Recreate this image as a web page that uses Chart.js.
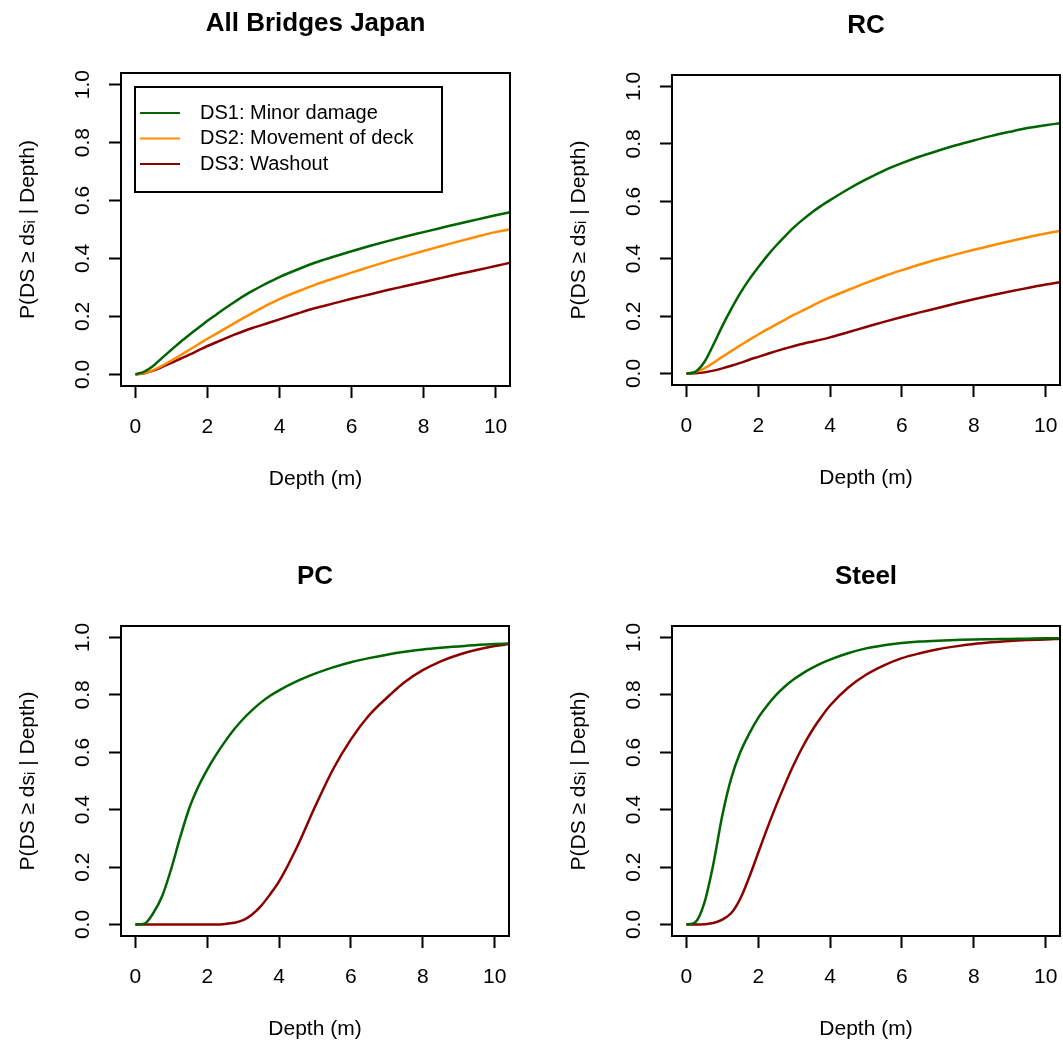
<!DOCTYPE html>
<html>
<head>
<meta charset="utf-8">
<script src="https://cdn.jsdelivr.net/npm/chart.js@4.4.0/dist/chart.umd.min.js"></script>
<style>
  body { margin: 0; background: #fff; width: 1063px; height: 1040px; position: relative; overflow: hidden; }
  .panel { position: absolute; }
</style>
</head>
<body>
<div class="panel" id="p0"><canvas id="c0"></canvas></div>
<div class="panel" id="p1"><canvas id="c1"></canvas></div>
<div class="panel" id="p2"><canvas id="c2"></canvas></div>
<div class="panel" id="p3"><canvas id="c3"></canvas></div>

<script>
// depth grid (m) shared by all curves
const depth = [0, 0.25, 0.5, 0.75, 1, 1.25, 1.5, 1.75, 2, 2.25, 2.5, 2.75, 3, 3.25, 3.5, 3.75, 4,
               4.5, 5, 5.5, 6, 6.5, 7, 7.5, 8, 8.5, 9, 9.5, 10, 10.4];

// All Bridges Japan
const allDS1 = [0, 0.01, 0.03, 0.058, 0.085, 0.112, 0.137, 0.161, 0.185, 0.207, 0.229, 0.25, 0.27, 0.288, 0.305, 0.321, 0.336,
                0.362, 0.386, 0.406, 0.425, 0.443, 0.46, 0.476, 0.491, 0.506, 0.521, 0.535, 0.549, 0.56];
const allDS2 = [0, 0.005, 0.015, 0.03, 0.048, 0.066, 0.085, 0.104, 0.123, 0.141, 0.159, 0.177, 0.195, 0.212, 0.229, 0.245, 0.26,
                0.286, 0.31, 0.331, 0.351, 0.371, 0.39, 0.408, 0.426, 0.443, 0.46, 0.476, 0.491, 0.5];
const allDS3 = [0, 0.004, 0.013, 0.026, 0.04, 0.054, 0.068, 0.083, 0.098, 0.111, 0.124, 0.137, 0.149, 0.16, 0.17, 0.18, 0.19,
                0.21, 0.229, 0.245, 0.261, 0.276, 0.291, 0.305, 0.319, 0.333, 0.347, 0.36, 0.374, 0.385];

// RC
const rcDS1 = [0, 0.006, 0.04, 0.1, 0.165, 0.225, 0.28, 0.328, 0.37, 0.41, 0.446, 0.479, 0.51, 0.537, 0.562, 0.584, 0.604,
               0.642, 0.676, 0.707, 0.733, 0.756, 0.776, 0.795, 0.812, 0.828, 0.842, 0.855, 0.865, 0.872];
const rcDS2 = [0, 0.005, 0.018, 0.037, 0.058, 0.078, 0.098, 0.117, 0.136, 0.154, 0.171, 0.188, 0.205, 0.22, 0.236, 0.251, 0.265,
               0.291, 0.316, 0.339, 0.36, 0.38, 0.398, 0.415, 0.431, 0.446, 0.461, 0.475, 0.488, 0.497];
const rcDS3 = [0, 0.001, 0.004, 0.01, 0.018, 0.027, 0.037, 0.048, 0.058, 0.068, 0.078, 0.087, 0.096, 0.104, 0.111, 0.118, 0.126,
               0.144, 0.162, 0.18, 0.197, 0.213, 0.228, 0.244, 0.259, 0.273, 0.286, 0.298, 0.31, 0.318];

// PC (DS2 not drawn)
const pcDS1 = [0, 0.003, 0.04, 0.1, 0.195, 0.305, 0.405, 0.48, 0.54, 0.592, 0.638, 0.68, 0.716, 0.747, 0.774, 0.797, 0.816,
               0.848, 0.874, 0.896, 0.914, 0.928, 0.94, 0.95, 0.958, 0.964, 0.969, 0.974, 0.977, 0.979];
const pcDS3 = [0, 0, 0, 0, 0, 0, 0, 0, 0, 0, 0.002, 0.006, 0.015, 0.035, 0.065, 0.105, 0.15,
               0.27, 0.41, 0.54, 0.645, 0.728, 0.79, 0.845, 0.886, 0.917, 0.94, 0.957, 0.97, 0.977];

// Steel (DS2 not drawn)
const stDS1 = [0, 0.008, 0.075, 0.21, 0.38, 0.51, 0.6, 0.665, 0.72, 0.763, 0.8, 0.83, 0.855, 0.876, 0.894, 0.91, 0.923,
               0.945, 0.962, 0.973, 0.981, 0.986, 0.989, 0.991, 0.993, 0.994, 0.995, 0.996, 0.997, 0.997];
const stDS3 = [0, 0, 0.001, 0.005, 0.017, 0.04, 0.09, 0.165, 0.25, 0.335, 0.415, 0.49, 0.56, 0.622, 0.676, 0.722, 0.763,
               0.825, 0.87, 0.903, 0.928, 0.945, 0.959, 0.969, 0.977, 0.983, 0.988, 0.991, 0.993, 0.995];

const xTicks = [0, 2, 4, 6, 8, 10];
const yTicks = [0, 0.2, 0.4, 0.6, 0.8, 1.0];
const dsLabels = ['DS1: Minor damage', 'DS2: Movement of deck', 'DS3: Washout'];
const dsColors = ['#006400', '#FF8C00', '#8B0000'];

const FONT = '"Liberation Sans", Arial, Helvetica, sans-serif';

// plot region of each panel in page pixels: left, top, right, bottom
const panels = [
  { title: 'All Bridges Japan', box: [121, 73, 510, 386], series: [allDS1, allDS2, allDS3], legend: true },
  { title: 'RC', box: [672, 75, 1060, 385], series: [rcDS1, rcDS2, rcDS3] },
  { title: 'PC', box: [121, 626, 509, 936], series: [pcDS1, null, pcDS3] },
  { title: 'Steel', box: [672, 626, 1060, 936], series: [stDS1, null, stDS3] }
];

const AXIS_W = 121, TOP_H = 73, BOTTOM_H = 134, PAD_R = 3;

// box round the plot region, like R's box()
const frame = {
  id: 'frame',
  afterDraw(chart) {
    const { ctx, chartArea: a } = chart;
    ctx.save();
    ctx.strokeStyle = '#000';
    ctx.lineWidth = 2;
    ctx.strokeRect(a.left, a.top, a.right - a.left, a.bottom - a.top);
    ctx.restore();
  }
};

// boxed legend in the top-left corner of the plot
const boxLegend = {
  id: 'boxLegend',
  afterDraw(chart, args, opts) {
    if (!opts.show) return;
    const { ctx, chartArea: a } = chart;
    const x = a.left + 14, y = a.top + 14, w = 307, h = 105;
    ctx.save();
    ctx.fillStyle = '#fff';
    ctx.fillRect(x, y, w, h);
    ctx.strokeStyle = '#000';
    ctx.lineWidth = 2;
    ctx.strokeRect(x, y, w, h);
    ctx.font = '20px ' + FONT;
    ctx.textBaseline = 'middle';
    chart.data.datasets.forEach((ds, i) => {
      const ly = y + 26 + i * 25.5;
      ctx.strokeStyle = ds.borderColor;
      ctx.lineWidth = 2;
      ctx.beginPath();
      ctx.moveTo(x + 5, ly);
      ctx.lineTo(x + 45, ly);
      ctx.stroke();
      ctx.fillStyle = '#000';
      ctx.fillText(ds.label, x + 65, ly);
    });
    ctx.restore();
  }
};

panels.forEach((p, k) => {
  const [l, t, r, b] = p.box;
  const div = document.getElementById('p' + k);
  const left = l - AXIS_W, top = t - TOP_H;
  div.style.left = left + 'px';
  div.style.top = top + 'px';
  div.style.width = (r - left + PAD_R) + 'px';
  div.style.height = (b - top + BOTTOM_H) + 'px';

  const datasets = [];
  p.series.forEach((s, i) => {
    if (!s) return;
    datasets.push({
      label: dsLabels[i],
      data: depth.map((d, j) => ({ x: d, y: s[j] })),
      borderColor: dsColors[i],
      backgroundColor: dsColors[i],
      borderWidth: 2.5,
      pointRadius: 0,
      cubicInterpolationMode: 'monotone',
      fill: false
    });
  });

  new Chart(document.getElementById('c' + k), {
    type: 'line',
    data: { datasets: datasets },
    plugins: [frame, boxLegend],
    options: {
      responsive: true,
      maintainAspectRatio: false,
      animation: false,
      layout: { padding: { left: 0, right: PAD_R, top: 0, bottom: 0 } },
      plugins: {
        legend: { display: false },
        tooltip: { enabled: false },
        boxLegend: { show: !!p.legend },
        title: {
          display: true,
          text: p.title,
          fullSize: false,
          color: '#000',
          font: { family: FONT, size: 26, weight: 'bold' },
          padding: { top: 8, bottom: 33.8 }
        }
      },
      scales: {
        x: {
          type: 'linear',
          min: -0.4,
          max: 10.4,
          afterBuildTicks: s => { s.ticks = xTicks.map(v => ({ value: v })); },
          afterFit: s => { s.height = BOTTOM_H; s.paddingLeft = 0; s.paddingRight = 0; },
          border: { display: false },
          grid: { drawOnChartArea: false, drawTicks: true, tickLength: 12, tickColor: '#000', tickWidth: 2 },
          ticks: { color: '#000', font: { family: FONT, size: 21 }, padding: 17, maxRotation: 0, autoSkip: false, callback: v => String(v) },
          title: { display: true, text: 'Depth (m)', color: '#000', font: { family: FONT, size: 21 }, padding: { top: 0, bottom: 28 } }
        },
        y: {
          type: 'linear',
          min: -0.04,
          max: 1.04,
          afterBuildTicks: s => { s.ticks = yTicks.map(v => ({ value: v })); },
          afterFit: s => { s.width = AXIS_W; s.paddingTop = 0; s.paddingBottom = 0; },
          border: { display: false },
          grid: { drawOnChartArea: false, drawTicks: true, tickLength: 12, tickColor: '#000', tickWidth: 2 },
          ticks: { color: '#000', font: { family: FONT, size: 21 }, padding: 11, minRotation: 90, maxRotation: 90, crossAlign: 'center', autoSkip: false, callback: v => v.toFixed(1) },
          title: { display: true, text: 'P(DS \u2265 ds\u1D62 | Depth)', color: '#000', font: { family: FONT, size: 21 }, padding: { top: 16, bottom: 0 } }
        }
      }
    }
  });
});
</script>
</body>
</html>
